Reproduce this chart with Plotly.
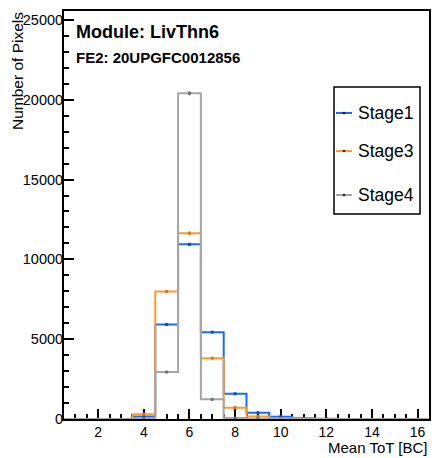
import numpy as np
import plotly.graph_objects as go

# ---- data ----
bin_centers = list(range(1, 17))
series_names = ["Stage1", "Stage3", "Stage4"]
stage1 = [0, 0, 0, 150, 5920, 10940, 5440, 1580, 390, 140, 40, 10, 0, 0, 0, 0]
stage3 = [0, 0, 0, 300, 7980, 11640, 3810, 710, 150, 30, 10, 0, 0, 0, 0, 0]
stage4 = [0, 0, 0, 30, 2940, 20400, 1230, 60, 10, 0, 0, 0, 0, 0, 0, 0]
series_colors = ["#1a6cf5", "#ff9a30", "#a6a6a6"]
marker_colors = ["#0d4fc4", "#d9761a", "#707070"]
x_ticks = [2, 4, 6, 8, 10, 12, 14, 16]
y_ticks = [0, 5000, 10000, 15000, 20000, 25000]
y_ticktext = ["0", "5000", "10000", "15000", "20000", "25000"]
title1 = "Module: LivThn6"
title2 = "FE2: 20UPGFC0012856"
x_title = "Mean ToT [BC]"
y_title = "Number of Pixels"

FONT = "Liberation Sans, Arial, sans-serif"
W, H = 432, 458
ML, MR, MT, MB = 64, 3, 11, 39
PW, PH = W - ML - MR, H - MT - MB

fig = go.Figure()
centers = np.array(bin_centers, dtype=float)
edges = np.concatenate([centers - 0.5, [centers[-1] + 0.5]])

for name, vals, col, mcol in zip(series_names, [stage1, stage3, stage4], series_colors, marker_colors):
    v = np.array(vals, dtype=float)
    fig.add_trace(go.Scatter(
        x=edges, y=np.concatenate([v, [v[-1]]]), mode="lines",
        line=dict(color=col, width=2, shape="hv"), name=name, showlegend=False,
        hoverinfo="skip"))
    nz = v > 0
    fig.add_trace(go.Scatter(
        x=centers[nz], y=v[nz], mode="markers",
        marker=dict(color=mcol, size=3, symbol="square"),
        error_y=dict(type="data", array=np.sqrt(v[nz]), color=col, thickness=1.5, width=0),
        showlegend=False, name=name))

fig.update_xaxes(
    range=[0.5, 16.5], tickvals=x_ticks, ticks="inside", ticklen=10, tickwidth=2,
    tickcolor="black", showline=True, linecolor="black", linewidth=2, mirror=True,
    showgrid=False, zeroline=False, layer="below traces", ticklabelstandoff=-1,
    tickfont=dict(family=FONT, size=14, color="black"),
    minor=dict(dtick=0.5, tick0=0.5, ticks="inside", ticklen=5, tickwidth=2, tickcolor="black", showgrid=False))
fig.update_yaxes(
    range=[0, 25560], tickvals=y_ticks, ticktext=y_ticktext, ticks="inside", ticklen=10, tickwidth=2,
    tickcolor="black", showline=True, linecolor="black", linewidth=2, mirror=True,
    showgrid=False, zeroline=False, automargin=False, ticklabelstandoff=-4,
    tickfont=dict(family=FONT, size=14.5, color="black"),
    minor=dict(dtick=1000, tick0=0, ticks="inside", ticklen=5, tickwidth=2, tickcolor="black", showgrid=False))

def px2x(px):
    return (px - ML) / PW

def px2y(py):
    return (H - MB - py) / PH

annotations = [
    dict(text=f"<b>{title1}</b>", x=px2x(74), y=px2y(32), xanchor="left", yanchor="middle",
         font=dict(family=FONT, size=18, color="black")),
    dict(text=f"<b>{title2}</b>", x=px2x(74), y=px2y(57), xanchor="left", yanchor="middle",
         font=dict(family=FONT, size=15, color="black")),
    dict(text=x_title, x=px2x(430), y=px2y(447), xanchor="right", yanchor="middle",
         font=dict(family=FONT, size=15, color="black")),
    dict(text=y_title, x=px2x(17), y=px2y(10), xanchor="center", yanchor="top", textangle=-90,
         font=dict(family=FONT, size=15.5, color="black")),
]
shapes = [
    dict(type="rect", xref="paper", yref="paper", x0=px2x(334), x1=px2x(420),
         y0=px2y(214), y1=px2y(87), line=dict(color="black", width=1.5), fillcolor="white", layer="above"),
]
leg_y = [113, 151, 195]
for name, col, ly in zip(series_names, series_colors, leg_y):
    shapes.append(dict(type="line", xref="paper", yref="paper", x0=px2x(336), x1=px2x(352),
                       y0=px2y(ly), y1=px2y(ly), line=dict(color=col, width=2), layer="above"))
    shapes.append(dict(type="circle", xref="paper", yref="paper", x0=px2x(343), x1=px2x(345),
                       y0=px2y(ly + 1), y1=px2y(ly - 1), line=dict(color="black", width=0.5),
                       fillcolor="black", layer="above"))
    annotations.append(dict(text=name, x=px2x(356), y=px2y(ly), xanchor="left", yanchor="middle",
                            font=dict(family=FONT, size=17.5, color="black")))
for a in annotations:
    a.update(xref="paper", yref="paper", showarrow=False)

fig.update_layout(
    width=W, height=H, margin=dict(l=ML, r=MR, t=MT, b=MB),
    paper_bgcolor="white", plot_bgcolor="white", showlegend=False,
    annotations=annotations, shapes=shapes)

fig.write_html("out.html", config={"displayModeBar": False, "staticPlot": True},
               post_script="document.body.style.margin='0';document.body.style.overflow='hidden';")
